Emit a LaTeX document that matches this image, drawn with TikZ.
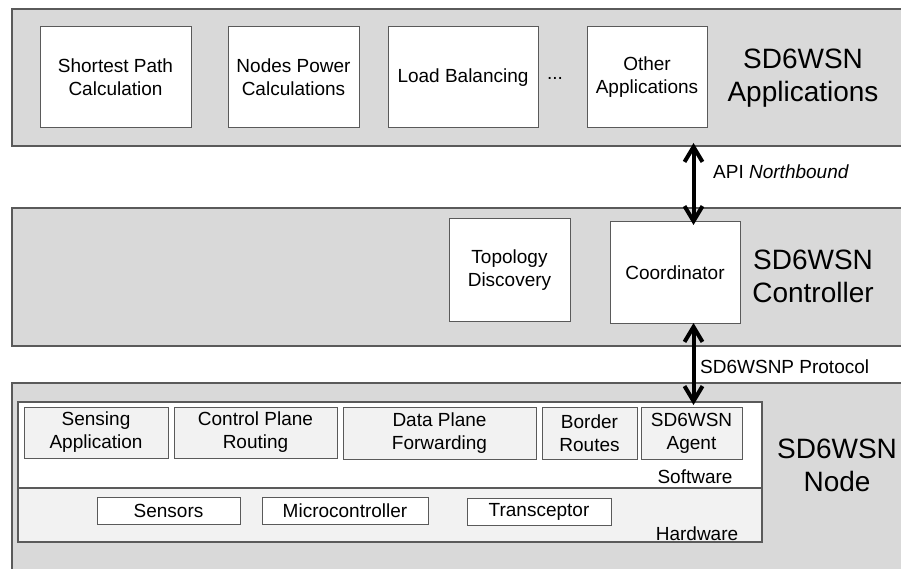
\documentclass[tikz,border=0pt]{standalone}
\usepackage{fontspec}
\setmainfont{Liberation Sans}
\usetikzlibrary{arrows.meta}
\definecolor{bandgray}{HTML}{D9D9D9}
\definecolor{edgegray}{HTML}{5A5A5A}
\definecolor{paleface}{HTML}{F2F2F2}

\begin{document}
\begin{tikzpicture}[x=1pt,y=-1pt,
  band/.style={draw=edgegray, fill=bandgray, line width=1.3pt, inner sep=0pt, outer sep=0pt, anchor=north west},
  layer/.style={draw=edgegray, line width=1.1pt, inner sep=0pt, outer sep=0pt, anchor=north west},
  modbox/.style={draw=edgegray, fill=white, line width=1pt, inner sep=0pt, outer sep=0pt,
                 align=center, font=\fontsize{19}{23}\selectfont},
  swbox/.style={modbox, fill=paleface},
  bigtitle/.style={align=center, inner sep=0pt, font=\fontsize{28}{33}\selectfont},
  tag/.style={inner sep=0pt, font=\fontsize{19}{23}\selectfont},
  biarrow/.style={line width=4pt, {Straight Barb[length=15pt,width=18pt]}-{Straight Barb[length=15pt,width=18pt]}}
]
\useasboundingbox (0,0) rectangle (901,569);

% three horizontal layers
\node[band, minimum width=898pt, minimum height=137pt] (apps) at (12,9) {};
\node[band, minimum width=898pt, minimum height=138pt] (ctrl) at (12,208) {};
\node[band, minimum width=898pt, minimum height=197pt] (nodeband) at (12,383) {};

% application layer
\node[modbox, minimum width=151pt, minimum height=101pt] (sp) at (115.5,77.5) {Shortest Path\\Calculation};
\node[modbox, minimum width=131pt, minimum height=101pt] (np) at (293.5,77.5) {Nodes Power\\Calculations};
\node[modbox, minimum width=150pt, minimum height=101pt] (lb) at (463,77.5) {Load Balancing};
\node[tag] (dots) at (555,78) {...};
\node[modbox, minimum width=120pt, minimum height=101pt] (oa) at (647,77.5) {Other\\Applications};
\node[bigtitle] (appstitle) at (803,78) {SD6WSN\\Applications};

% controller layer
\node[modbox, minimum width=121pt, minimum height=102pt] (topo) at (509.5,270) {Topology\\Discovery};
\node[modbox, minimum width=130pt, minimum height=101pt] (coord) at (675,272.5) {Coordinator};
\node[bigtitle] (ctrltitle) at (813,276) {SD6WSN\\Controller};

% node layer: software and hardware parts
\node[layer, fill=white, minimum width=744pt, minimum height=86pt] (sw) at (18,402) {};
\node[layer, fill=paleface, minimum width=744pt, minimum height=54pt] (hw) at (18,488) {};

\node[swbox, minimum width=144pt, minimum height=51pt] (sense) at (96,432.5) {Sensing\\Application};
\node[swbox, minimum width=163pt, minimum height=51pt] (cpr) at (255.5,432.5) {Control Plane\\Routing};
\node[swbox, minimum width=193pt, minimum height=52pt] (dpf) at (439.5,433) {Data Plane\\Forwarding};
\node[swbox, minimum width=95pt, minimum height=52pt] (border) at (589.5,433) {Border\\Routes};
\node[swbox, minimum width=101pt, minimum height=52pt] (agent) at (691.5,433) {SD6WSN\\Agent};
\node[tag, anchor=base] (swlabel) at (695,483) {Software};

\node[modbox, minimum width=143pt, minimum height=27pt] (sensors) at (168.5,510.5) {Sensors};
\node[modbox, minimum width=166pt, minimum height=27pt] (mcu) at (345,511) {Microcontroller};
\node[modbox, minimum width=144pt, minimum height=27pt] (trans) at (539,511.5) {Transceptor};
\node[tag, anchor=base] (hwlabel) at (697,540) {Hardware};

\node[bigtitle] (nodetitle) at (837,465) {SD6WSN\\Node};

% interfaces between layers
\coordinate (col) at (693.5,0);
\draw[biarrow, shorten <=-3pt, shorten >=-3pt] (apps.south -| col) -- (coord.north -| col);
\draw[biarrow, shorten >=-3pt] (coord.south -| col) -- (sw.north -| col);
\node[tag, anchor=west] (apilabel) at (713,172) {API \textit{Northbound}};
\node[tag, anchor=west] (protolabel) at (700,367) {SD6WSNP Protocol};
\end{tikzpicture}
\end{document}
